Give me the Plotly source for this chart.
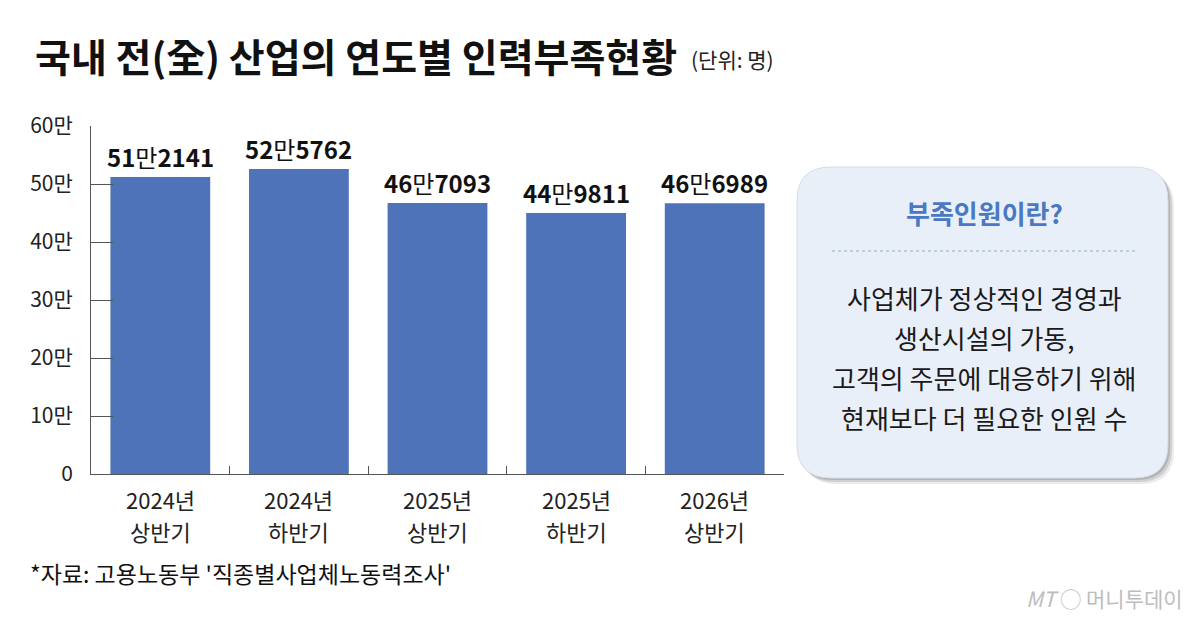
import plotly.graph_objects as go

periods = ["2024년 상반기", "2024년 하반기", "2025년 상반기", "2025년 하반기", "2026년 상반기"]
shortage = [512141, 525762, 467093, 449811, 466989]
labels = ["<b>51</b>만<b>2141</b>", "<b>52</b>만<b>5762</b>", "<b>46</b>만<b>7093</b>",
          "<b>44</b>만<b>9811</b>", "<b>46</b>만<b>6989</b>"]
ytick_vals = [0, 100000, 200000, 300000, 400000, 500000, 600000]
ytick_text = ["0", "10만", "20만", "30만", "40만", "50만", "60만"]

box_title = "부족인원이란?"
box_lines = ["사업체가 정상적인 경영과", "생산시설의 가동,", "고객의 주문에 대응하기 위해", "현재보다 더 필요한 인원 수"]
source = "*자료: 고용노동부 '직종별사업체노동력조사'"

FONT = "Noto Sans CJK KR, sans-serif"

# plot area in pixels: x 91..784, y 126..474
L, R, T, B = 91, 784, 126, 474


def px(x):
    return (x - L) / (R - L)


def py(y):
    return (B - y) / (B - T)


def rounded(x0, y0, x1, y1, r):
    rx, ry = r / (R - L), r / (B - T)
    a, b, c, d = px(x0), py(y0), px(x1), py(y1)
    return (f"M{a+rx},{b} L{c-rx},{b} Q{c},{b} {c},{b-ry} L{c},{d+ry} Q{c},{d} {c-rx},{d} "
            f"L{a+rx},{d} Q{a},{d} {a},{d+ry} L{a},{b-ry} Q{a},{b} {a+rx},{b} Z")


fig = go.Figure()
fig.add_trace(go.Bar(x=periods, y=shortage, marker_color="#4E73B8", marker_line_width=0,
                     hoverinfo="skip"))

for p, v, t in zip(periods, shortage, labels):
    fig.add_annotation(x=p, y=v, text=t, showarrow=False, yanchor="bottom", yshift=1,
                       font=dict(family=FONT, size=24, color="#111111"))
    # two-line category label, one annotation per line
    year, half = p.split(" ")
    for txt, yy in [(year, 499), (half, 531)]:
        fig.add_annotation(x=p, y=py(yy), yref="paper", text=txt, showarrow=False, yanchor="middle",
                           font=dict(family=FONT, size=22, color="#222222"))

shapes = []
# box shadow + box
for off, op in [(6, 0.12), (4, 0.18), (2, 0.25)]:
    shapes.append(dict(type="path", xref="paper", yref="paper",
                       path=rounded(797 + off, 167 + off, 1168 + off, 478 + off, 34),
                       fillcolor=f"rgba(90,90,90,{op})", line_width=0, layer="below"))
shapes.append(dict(type="path", xref="paper", yref="paper", path=rounded(797, 167, 1168, 478, 34),
                   fillcolor="#E9EFF9", line=dict(color="#D6DDE8", width=1), layer="below"))
shapes.append(dict(type="line", xref="paper", yref="paper", x0=px(832), x1=px(1136), y0=py(251), y1=py(251),
                   line=dict(color="#98AACB", width=1, dash="3px,3px")))
fig.update_layout(shapes=shapes)

ann = [
    dict(x=px(33), y=py(55), text="<b>국내 전(全) 산업의 연도별 인력부족현황</b>",
         font=dict(size=39, color="#111111"), xanchor="left"),
    dict(x=px(689), y=py(59), text="(단위: 명)",
         font=dict(size=21, color="#222222"), xanchor="left"),
    dict(x=px(984), y=py(212), text="<b>" + box_title + "</b>",
         font=dict(size=26, color="#4A78C2"), xanchor="center"),
    dict(x=px(28), y=py(573), text=source,
         font=dict(size=23, color="#111111"), xanchor="left"),
    dict(x=px(1185), y=py(598), text="<i>MT</i> ◯ 머니투데이",
         font=dict(size=21, color="#BDBDBD"), xanchor="right"),
]
for i, line in enumerate(box_lines):
    ann.append(dict(x=px(984), y=py(297 + i * 40), text=line,
                    font=dict(size=26, color="#1A1A1A"), xanchor="center"))
for a in ann:
    a["font"]["family"] = FONT
    fig.add_annotation(xref="paper", yref="paper", showarrow=False, yanchor="middle", **a)

fig.update_layout(
    width=1200, height=624,
    margin=dict(l=L, r=1200 - R, t=T, b=624 - B),
    plot_bgcolor="white", paper_bgcolor="white",
    bargap=0.28, showlegend=False,
    font=dict(family=FONT, color="#222222"),
)
fig.update_xaxes(showline=True, linecolor="#555555", linewidth=1, ticks="inside", ticklen=8,
                 tickcolor="#555555", tickson="boundaries", showticklabels=False, showgrid=False)
fig.update_yaxes(range=[0, 600000], tickvals=ytick_vals, ticktext=ytick_text, showline=True,
                 linecolor="#555555", linewidth=1, ticks="inside", ticklen=22, tickcolor="#555555",
                 ticklabelstandoff=13, showgrid=False, zeroline=False,
                 tickfont=dict(family=FONT, size=21, color="#222222"))

# page body margin would push the figure 8px off
fig.write_html("out.html", config={"displayModeBar": False},
               post_script="document.body.style.margin='0';")
